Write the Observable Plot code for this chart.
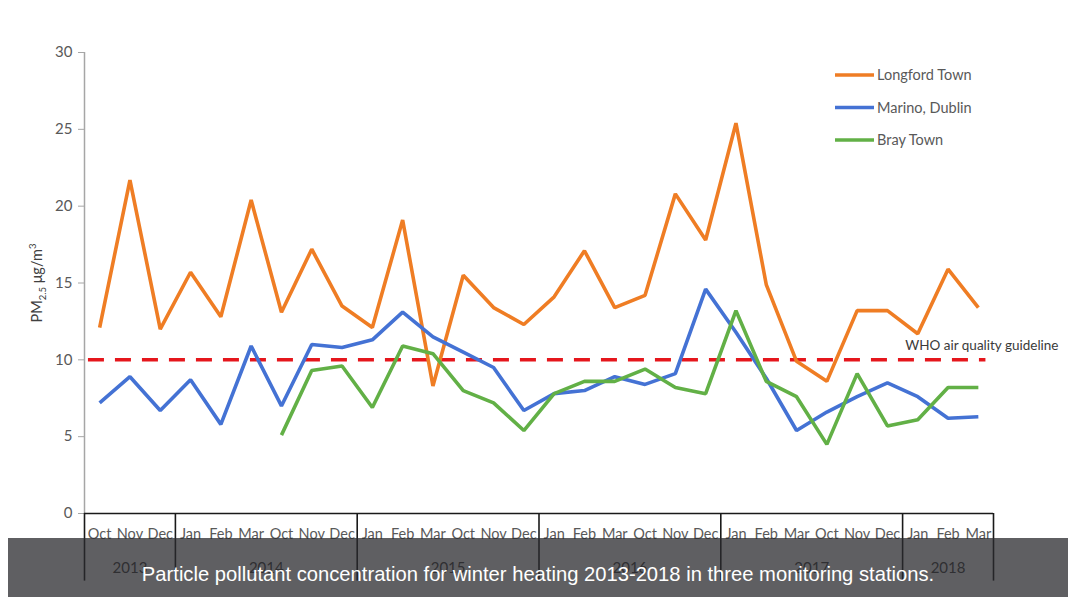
<!DOCTYPE html>
<html>
<head>
<meta charset="utf-8">
<script src="https://cdn.jsdelivr.net/npm/d3@7"></script>
<script src="https://cdn.jsdelivr.net/npm/@observablehq/plot@0.6"></script>
<style>
  html, body { margin: 0; padding: 0; background: #fff; }
  #wrap { position: relative; width: 1080px; height: 597px; overflow: hidden; }
  #caption {
    position: absolute; left: 8px; top: 538px; width: 1060px; height: 59px;
    background: rgba(42, 42, 45, 0.75);
    color: #fff; font-family: "Liberation Sans", Arial, sans-serif; font-size: 20.2px;
    text-align: center; line-height: 20px; padding-top: 26px; box-sizing: border-box;
  }
</style>
</head>
<body>
<div id="wrap"></div>
<script>
const months = ["Oct","Nov","Dec","Jan","Feb","Mar","Oct","Nov","Dec","Jan","Feb","Mar",
                "Oct","Nov","Dec","Jan","Feb","Mar","Oct","Nov","Dec","Jan","Feb","Mar",
                "Oct","Nov","Dec","Jan","Feb","Mar"];
const years = ["2013","2014","2015","2016","2017","2018"];
const yearFirst = [0, 3, 9, 15, 21, 27];
const yearLast = [2, 8, 14, 20, 26, 29];
const seriesNames = ["Longford Town", "Marino, Dublin", "Bray Town"];
const seriesColors = ["#EF7D24", "#4472D4", "#62B046"];
const longford = [12.1,21.7,12.0,15.7,12.8,20.4,13.1,17.2,13.5,12.1,19.1,8.3,15.5,13.4,12.3,
                  14.1,17.1,13.4,14.2,20.8,17.8,25.4,14.9,9.9,8.6,13.2,13.2,11.7,15.9,13.4];
const marino = [7.2,8.9,6.7,8.7,5.8,10.9,7.0,11.0,10.8,11.3,13.1,11.5,10.5,9.5,6.7,
                7.8,8.0,8.9,8.4,9.1,14.6,11.8,8.8,5.4,6.6,7.6,8.5,7.6,6.2,6.3];
const bray = [null,null,null,null,null,null,5.1,9.3,9.6,6.9,10.9,10.4,8.0,7.2,5.4,
              7.8,8.6,8.6,9.4,8.2,7.8,13.2,8.6,7.6,4.5,9.1,5.7,6.1,8.2,8.2];
const whoGuideline = 10;
const whoLabel = "WHO air quality guideline";
const yTicks = [0, 5, 10, 15, 20, 25, 30];
const captionText = "Particle pollutant concentration for winter heating 2013-2018 in three monitoring stations.";

const allSeries = [longford, marino, bray];
const rows = [];
allSeries.forEach((vals, s) => vals.forEach((v, i) => {
  if (v != null) rows.push({series: seriesNames[s], i, v});
}));
const monthIdx = months.map((m, i) => i);
const yearCenters = yearFirst.map((f, k) => (f + yearLast[k]) / 2);
const yearBounds = [yearFirst[0] - 0.5, ...yearLast.map(l => l + 0.5)];
const nCat = months.length;

const font = "Lato, 'Open Sans', sans-serif";

const chart = Plot.plot({
  width: 1080,
  height: 597,
  marginLeft: 84,
  marginRight: 87,
  marginTop: 52,
  marginBottom: 84,
  style: {fontFamily: font, background: "transparent", overflow: "visible"},
  x: {type: "linear", domain: [-0.5, nCat - 0.5], axis: null},
  y: {domain: [0, 30], axis: null},
  color: {domain: seriesNames, range: seriesColors},
  marks: [
    Plot.ruleX([-0.5], {y1: 0, y2: 30, stroke: "#a6a6a6", strokeWidth: 1.5}),
    Plot.axisY({ticks: yTicks, tickSize: 6, tickPadding: 6, stroke: "#a6a6a6", fill: "#595959",
                fontSize: 15, label: null, tickFormat: d => d}),
    Plot.ruleX(yearBounds, {y1: 0, y2: -4.4, stroke: "#1a1a1a", strokeWidth: 1.6}),
    Plot.ruleY([0], {x1: -0.5, x2: nCat - 0.5, stroke: "#1a1a1a", strokeWidth: 1.6}),
    Plot.axisX({ticks: monthIdx, tickFormat: i => months[i], tickSize: 0, tickPadding: 15,
                fill: "#595959", fontSize: 14.5, label: null}),
    Plot.axisX({ticks: yearCenters, tickFormat: d => years[yearCenters.indexOf(d)], tickSize: 0,
                tickPadding: 49, fill: "#404040", fontSize: 15, label: null}),
    Plot.ruleY([whoGuideline], {x1: -0.37, x2: nCat - 0.75, stroke: "#e5161c", strokeWidth: 3.5,
                strokeDasharray: "16,11"}),
    Plot.text([whoLabel], {y: () => whoGuideline, frameAnchor: "right", textAnchor: "end", dx: 65, dy: -14,
                fill: "#3a3a3a", fontSize: 13.5}),
    Plot.line(rows, {x: "i", y: "v", z: "series", stroke: "series", strokeWidth: 3.6,
                strokeLinejoin: "miter", strokeLinecap: "butt"})
  ]
});

document.getElementById("wrap").appendChild(chart);

// legend and y label
const svg = d3.select(chart);
const leg = svg.append("g").attr("font-family", font).attr("font-size", 14.5)
  .attr("fill", "#595959").attr("text-anchor", "start");
seriesNames.forEach((name, k) => {
  const yy = 75 + k * 32.5;
  leg.append("line").attr("x1", 835).attr("x2", 874).attr("y1", yy).attr("y2", yy)
     .attr("stroke", seriesColors[k]).attr("stroke-width", 3.6);
  leg.append("text").attr("x", 877).attr("y", yy).attr("dy", "0.35em").text(name);
});
const yl = svg.append("text").attr("transform", "translate(42,283) rotate(-90)")
  .attr("text-anchor", "middle").attr("font-family", font).attr("font-size", 14.5).attr("fill", "#404040");
yl.append("tspan").text("PM");
yl.append("tspan").attr("font-size", 9.5).attr("dy", 4).text("2.5");
yl.append("tspan").attr("dy", -4).text(" μg/m");
yl.append("tspan").attr("font-size", 9.5).attr("dy", -6).text("3");

const cap = document.createElement("div");
cap.id = "caption";
cap.textContent = captionText;
document.getElementById("wrap").appendChild(cap);
</script>
</body>
</html>
